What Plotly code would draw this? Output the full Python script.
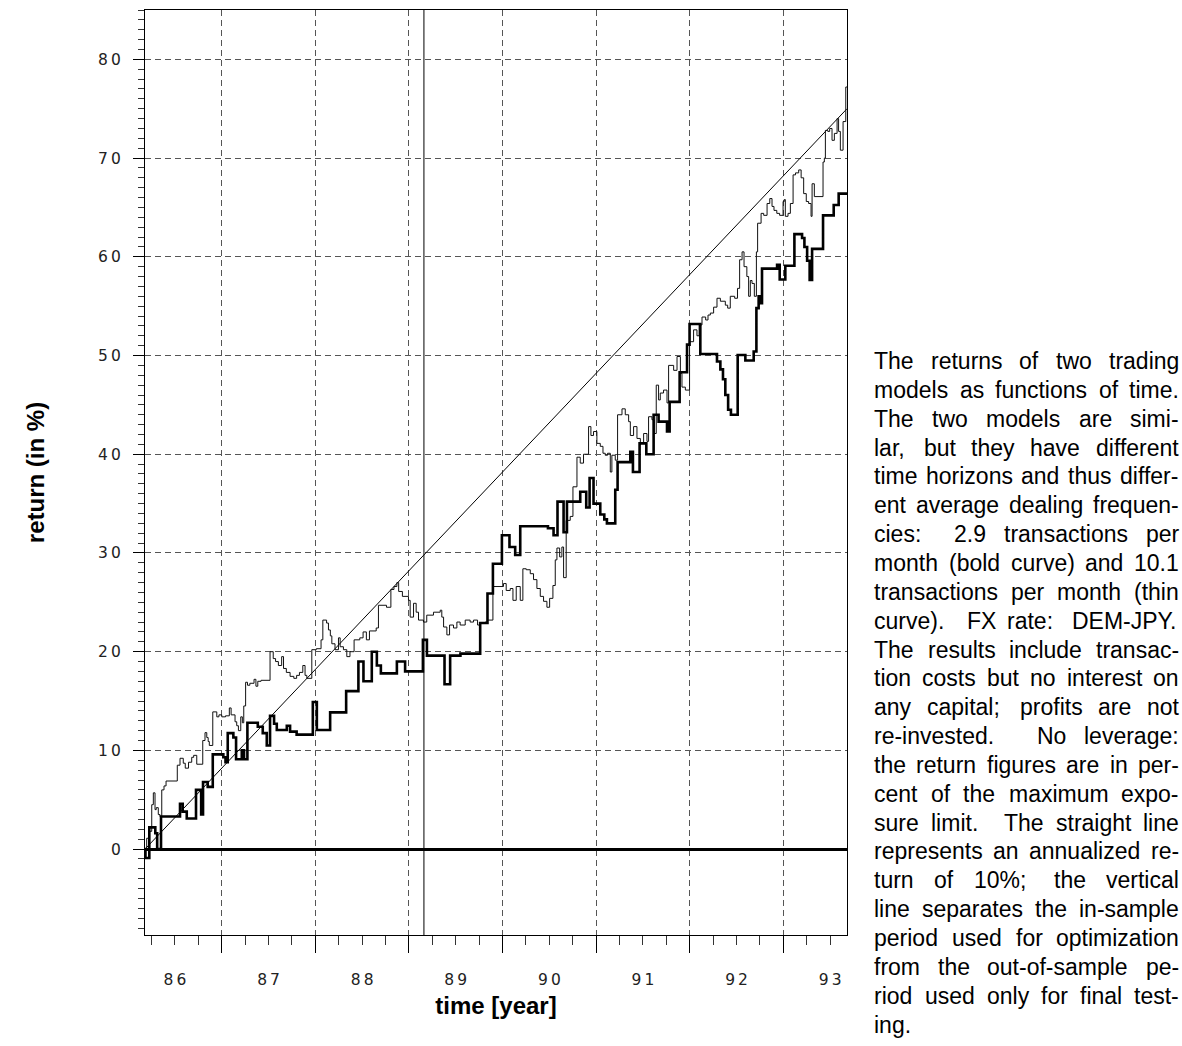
import plotly.graph_objects as go

# ---------------- data ----------------
x_range = [1986.18, 1993.68]
y_range = [-8.7, 85.0]
split_year = 1989.16
ref_t = [1986.18, 1993.68]
ref_v = [0.0, 75.0]
year_label_pos = [1986.5, 1987.5, 1988.5, 1989.5, 1990.5, 1991.5, 1992.5, 1993.5]
year_labels = ["86", "87", "88", "89", "90", "91", "92", "93"]
y_labels = ["0", "10", "20", "30", "40", "50", "60", "70", "80"]

bold_t = [1986.18, 1986.185, 1986.226, 1986.29, 1986.31, 1986.351, 1986.554, 1986.583, 1986.626,
          1986.725, 1986.78, 1986.80, 1986.85, 1986.904, 1987.017, 1987.04, 1987.064, 1987.124,
          1987.153, 1987.214, 1987.238, 1987.274, 1987.385, 1987.438, 1987.481, 1987.516, 1987.559,
          1987.588, 1987.695, 1987.73, 1987.80, 1987.973, 1988.016, 1988.158, 1988.329, 1988.46,
          1988.514, 1988.603, 1988.657, 1988.70, 1988.871, 1988.959, 1989.149, 1989.192, 1989.38,
          1989.44, 1989.55, 1989.761, 1989.839, 1989.897, 1989.993, 1990.074, 1990.135, 1990.189,
          1990.485, 1990.545, 1990.587, 1990.652, 1990.688, 1990.83, 1990.894, 1990.93, 1990.972,
          1991.044, 1991.087, 1991.115, 1991.204, 1991.229, 1991.365, 1991.393, 1991.464, 1991.536,
          1991.614, 1991.667, 1991.757, 1991.785, 1991.892, 1991.971, 1991.998, 1992.113, 1992.291,
          1992.327, 1992.355, 1992.38, 1992.41, 1992.44, 1992.512, 1992.594, 1992.683, 1992.712,
          1992.736, 1992.754, 1992.772, 1992.933, 1992.961, 1993.021, 1993.118, 1993.2, 1993.225,
          1993.254, 1993.281, 1993.307, 1993.424, 1993.538, 1993.591, 1993.68]
bold_v = [0.0, -0.9, 2.2, 1.6, 0.0, 3.3, 4.6, 3.8, 3.1,
          6.0, 3.5, 6.8, 6.3, 9.6, 9.3, 8.8, 11.75, 11.3,
          9.1, 10.0, 9.1, 12.8, 12.4, 11.75, 10.5, 13.5, 12.7,
          12.06, 12.5, 11.9, 11.6, 14.9, 12.06, 13.85, 16.0, 19.0,
          17.0, 20.0, 18.6, 17.8, 19.0, 18.0, 21.2, 19.6, 16.7,
          19.6, 19.8, 22.9, 25.9, 28.9, 31.8, 30.6, 29.8, 32.7,
          32.5, 31.8, 35.2, 32.1, 35.2, 36.2, 34.6, 37.6, 35.0,
          33.9, 33.4, 33.0, 36.4, 39.2, 40.25, 38.2, 41.1, 40.0,
          44.0, 43.3, 42.3, 45.3, 48.3, 51.1, 53.2, 50.15, 49.4,
          48.6, 47.6, 46.0, 44.5, 44.0, 50.05, 49.5, 50.4, 54.8,
          56.0, 55.3, 58.8, 59.2, 57.7, 59.1, 62.3, 61.9, 61.0,
          59.6, 57.65, 60.8, 64.2, 65.25, 66.4, 66.4]

thin_t = [1986.18, 1986.198, 1986.22, 1986.252, 1986.269, 1986.287, 1986.30, 1986.322, 1986.34,
          1986.359, 1986.383, 1986.405, 1986.525, 1986.554, 1986.589, 1986.61, 1986.645, 1986.679,
          1986.70, 1986.733, 1986.797, 1986.821, 1986.84, 1986.855, 1986.867, 1986.904, 1986.947,
          1986.97, 1987.0, 1987.04, 1987.081, 1987.10, 1987.142, 1987.16, 1987.178, 1987.203,
          1987.22, 1987.235, 1987.255, 1987.275, 1987.30, 1987.345, 1987.365, 1987.385, 1987.42,
          1987.516, 1987.55, 1987.575, 1987.605, 1987.64, 1987.66, 1987.69, 1987.73, 1987.77,
          1987.80, 1987.83, 1987.866, 1987.89, 1987.909, 1987.962, 1988.01, 1988.061, 1988.08,
          1988.12, 1988.14, 1988.16, 1988.176, 1988.21, 1988.247, 1988.265, 1988.30, 1988.336,
          1988.37, 1988.414, 1988.475, 1988.51, 1988.545, 1988.578, 1988.65, 1988.674, 1988.76,
          1988.807, 1988.84, 1988.871, 1988.89, 1988.93, 1988.995, 1989.013, 1989.049, 1989.077,
          1989.102, 1989.155, 1989.19, 1989.262, 1989.334, 1989.351, 1989.37, 1989.405, 1989.434,
          1989.476, 1989.512, 1989.547, 1989.601, 1989.654, 1989.69, 1989.733, 1989.761, 1989.815,
          1989.839, 1989.897, 1990.01, 1990.039, 1990.082, 1990.111, 1990.146, 1990.189, 1990.217,
          1990.253, 1990.296, 1990.331, 1990.367, 1990.403, 1990.438, 1990.474, 1990.503, 1990.538,
          1990.563, 1990.581, 1990.61, 1990.634, 1990.652, 1990.68, 1990.723, 1990.752, 1990.795,
          1990.83, 1990.865, 1990.919, 1990.944, 1990.972, 1991.008, 1991.044, 1991.073, 1991.097,
          1991.122, 1991.151, 1991.168, 1991.204, 1991.229, 1991.276, 1991.311, 1991.347, 1991.365,
          1991.40, 1991.436, 1991.472, 1991.507, 1991.543, 1991.56, 1991.596, 1991.62, 1991.642,
          1991.667, 1991.685, 1991.72, 1991.757, 1991.774, 1991.828, 1991.864, 1991.90, 1991.917,
          1991.953, 1991.998, 1992.041, 1992.077, 1992.10, 1992.131, 1992.17, 1992.195, 1992.22,
          1992.255, 1992.291, 1992.327, 1992.38, 1992.405, 1992.433, 1992.48, 1992.51, 1992.533,
          1992.559, 1992.58, 1992.61, 1992.629, 1992.647, 1992.665, 1992.69, 1992.712, 1992.725,
          1992.762, 1992.79, 1992.826, 1992.855, 1992.879, 1992.90, 1992.93, 1992.96, 1992.997,
          1993.01, 1993.021, 1993.05, 1993.075, 1993.104, 1993.13, 1993.164, 1993.19, 1993.217,
          1993.245, 1993.27, 1993.296, 1993.307, 1993.331, 1993.424, 1993.438, 1993.449, 1993.475,
          1993.495, 1993.52, 1993.545, 1993.574, 1993.59, 1993.609, 1993.638, 1993.667, 1993.68]
thin_v = [0.0, 1.1, 1.8, 4.5, 5.7, 4.0, 4.2, 3.5, 3.3,
          6.0, 6.4, 6.9, 8.5, 9.2, 8.7, 8.2, 8.8, 9.3,
          9.5, 8.6, 11.0, 11.8, 11.3, 10.9, 10.5, 13.9, 13.4,
          13.6, 13.4, 13.5, 14.3, 13.6, 12.9, 12.5, 12.0, 13.4,
          12.8, 14.5, 16.9, 16.6, 16.8, 17.2, 16.5, 17.0, 17.1,
          20.0, 19.3, 19.0, 18.6, 19.5, 18.3, 17.9, 17.5, 17.3,
          17.6, 17.9, 18.6, 17.6, 17.3, 20.2, 20.3, 21.2, 23.2,
          22.9, 22.2, 21.6, 20.8, 20.2, 21.4, 20.5, 20.2, 19.5,
          20.0, 21.2, 21.4, 22.0, 21.2, 22.1, 22.4, 24.7, 24.5,
          26.3, 26.6, 27.0, 26.1, 25.6, 25.2, 23.5, 24.9, 24.0,
          23.2, 23.0, 23.7, 24.0, 24.2, 23.5, 22.5, 21.7, 22.7,
          22.4, 23.0, 22.7, 23.2, 23.0, 23.2, 22.7, 22.9, 23.0,
          23.2, 26.6, 26.9, 26.2, 26.4, 25.2, 26.6, 25.2, 28.4,
          28.3, 27.9, 27.3, 26.4, 25.6, 25.1, 24.5, 25.4, 26.7,
          29.3, 30.5, 29.6, 30.6, 27.5, 33.3, 33.7, 36.7, 39.7,
          39.1, 40.0, 42.8, 41.9, 42.3, 41.1, 40.8, 40.1, 39.9,
          40.1, 38.2, 39.9, 39.4, 44.0, 44.6, 44.0, 43.3, 41.9,
          42.8, 41.6, 41.1, 42.1, 41.3, 43.8, 43.5, 42.1, 47.0,
          45.5, 46.2, 46.5, 45.2, 49.0, 48.5, 49.9, 48.2, 46.8,
          46.5, 51.4, 52.6, 52.0, 53.1, 53.9, 53.6, 54.1, 54.3,
          54.9, 55.8, 55.5, 55.1, 54.8, 56.0, 55.8, 56.8, 59.7,
          60.5, 59.0, 58.0, 56.0, 57.6, 57.3, 56.0, 60.5, 63.4,
          64.4, 64.2, 65.4, 65.9, 65.1, 64.7, 64.4, 64.2, 65.6,
          65.8, 64.1, 64.4, 65.4, 68.3, 68.5, 68.8, 68.0, 66.4,
          65.6, 65.4, 64.1, 67.4, 66.1, 69.6, 70.0, 72.8, 72.7,
          73.0, 71.8, 72.5, 74.0, 72.7, 70.8, 73.7, 77.2, 77.2]

caption_lines = [
    "The returns of two trading",
    "models as functions of time.",
    "The two models are simi-",
    "lar, but they have different",
    "time horizons and thus differ-",
    "ent average dealing frequen-",
    "cies: 2.9 transactions per",
    "month (bold curve) and 10.1",
    "transactions per month (thin",
    "curve). FX rate: DEM-JPY.",
    "The results include transac-",
    "tion costs but no interest on",
    "any capital; profits are not",
    "re-invested. No leverage:",
    "the return figures are in per-",
    "cent of the maximum expo-",
    "sure limit. The straight line",
    "represents an annualized re-",
    "turn of 10%; the vertical",
    "line separates the in-sample",
    "period used for optimization",
    "from the out-of-sample pe-",
    "riod used only for final test-",
    "ing.",
]

# ---------------- layout geometry ----------------
W, H = 1182, 1046
ML, MT = 145, 10
PW, PH = 702, 925
MR, MB = W - ML - PW, H - MT - PH

def spaced(s):
    return "\u2009".join(s)

fig = go.Figure()
fig.add_trace(go.Scatter(x=ref_t, y=ref_v, mode="lines",
                         line=dict(color="black", width=1), hoverinfo="skip", showlegend=False))
fig.add_trace(go.Scatter(x=thin_t, y=thin_v, mode="lines", line_shape="hv",
                         line=dict(color="#111111", width=1), showlegend=False))
fig.add_trace(go.Scatter(x=bold_t, y=bold_v, mode="lines", line_shape="hv",
                         line=dict(color="black", width=2.6), showlegend=False))
fig.add_vline(x=split_year, line=dict(color="black", width=1))

tick_font = dict(family="DejaVu Sans", size=15.5, color="#222222")
grid_dash = "6px,4px"
title_font = dict(family="Liberation Sans", size=24, color="black")

fig.update_layout(
    width=W, height=H,
    margin=dict(l=ML, r=MR, t=MT, b=MB, autoexpand=False),
    paper_bgcolor="white", plot_bgcolor="white",
    xaxis=dict(
        range=x_range, tickmode="linear", tick0=1987, dtick=1,
        ticks="outside", ticklen=17, tickwidth=1, tickcolor="black",
        showticklabels=False,
        showgrid=True, gridcolor="#555555", gridwidth=1, griddash=grid_dash,
        zeroline=False, showline=True, linecolor="black", linewidth=1, mirror=True,
        minor=dict(tickmode="linear", tick0=1987, dtick=0.25, ticks="outside",
                   ticklen=9, tickwidth=1, tickcolor="#333333", showgrid=False),
    ),
    xaxis2=dict(
        overlaying="x", anchor="y", side="bottom", range=x_range,
        tickmode="array", tickvals=year_label_pos, ticktext=[spaced(s) for s in year_labels],
        ticks="", showgrid=False, zeroline=False, showline=False,
        tickfont=tick_font, ticklabelstandoff=33,
        title=dict(text="<b>time [year]</b>", standoff=9, font=title_font),
    ),
    yaxis=dict(
        range=y_range, tickmode="linear", tick0=0, dtick=10,
        ticks="outside", ticklen=11, tickwidth=1, tickcolor="black",
        tickfont=tick_font, ticklabelstandoff=9,
        labelalias={s: spaced(s) for s in y_labels},
        showgrid=True, gridcolor="#555555", gridwidth=1, griddash=grid_dash,
        zeroline=True, zerolinecolor="black", zerolinewidth=3,
        showline=True, linecolor="black", linewidth=1, mirror=True,
        minor=dict(tickmode="linear", tick0=0, dtick=1, ticks="outside",
                   ticklen=6, tickwidth=1, tickcolor="#333333", showgrid=False),
        title=dict(text="<b>return (in %)</b>", standoff=46, font=title_font),
    ),
)
# helper trace so the label axis (x2) is drawn
fig.add_trace(go.Scatter(x=x_range, y=[None, None], xaxis="x2", yaxis="y",
                         mode="lines", showlegend=False, hoverinfo="skip"))

# ---------------- justified caption ----------------
AW = {' ': 278, '!': 278, '%': 889, '(': 333, ')': 333, ',': 278, '-': 333, '.': 278,
      ':': 278, ';': 278, 'A': 667, 'B': 667, 'C': 722, 'D': 722, 'E': 667, 'F': 611,
      'G': 778, 'H': 722, 'I': 278, 'J': 500, 'K': 667, 'L': 556, 'M': 833, 'N': 722,
      'O': 778, 'P': 667, 'Q': 778, 'R': 722, 'S': 667, 'T': 611, 'U': 722, 'V': 667,
      'W': 944, 'X': 667, 'Y': 667, 'Z': 611, 'a': 556, 'b': 556, 'c': 500, 'd': 556,
      'e': 556, 'f': 278, 'g': 556, 'h': 556, 'i': 222, 'j': 222, 'k': 500, 'l': 222,
      'm': 833, 'n': 556, 'o': 556, 'p': 556, 'q': 556, 'r': 333, 's': 500, 't': 278,
      'u': 556, 'v': 500, 'w': 722, 'x': 500, 'y': 500, 'z': 500}
FS = 23
CAP_L, CAP_R = 873, 1178
CAP_Y0, CAP_DY = 361, 28.85

def tw(s):
    return sum(AW.get(c, 556) for c in s) * FS / 1000.0

def sf(word):
    return {'.': 3.0, ':': 2.0, ';': 1.5, ',': 1.25}.get(word[-1], 1.0)

annotations = []
for i, line in enumerate(caption_lines):
    words = line.split(" ")
    widths = [tw(w) for w in words]
    gaps, facs = [], []
    for w in words[:-1]:
        f = sf(w)
        facs.append(f)
        gaps.append(tw(" ") + (0.12 * FS if f >= 2 else 0.0))
    natural = sum(widths) + sum(gaps)
    if i < len(caption_lines) - 1 and len(words) > 1:
        diff = (CAP_R - CAP_L) - natural
        if diff >= 0:
            tot = sum(facs)
            gaps = [g + diff * f / tot for g, f in zip(gaps, facs)]
        else:
            tot = sum(1.0 / f for f in facs)
            gaps = [g + diff * (1.0 / f) / tot for g, f in zip(gaps, facs)]
    x = CAP_L
    yc = CAP_Y0 + i * CAP_DY
    for j, w in enumerate(words):
        annotations.append(dict(
            text=w, x=(x - ML) / PW, y=(MT + PH - yc) / PH,
            xref="paper", yref="paper", xanchor="left", yanchor="middle",
            showarrow=False, borderpad=0,
            font=dict(family="Liberation Sans", size=FS, color="black")))
        x += widths[j] + (gaps[j] if j < len(gaps) else 0)

fig.update_layout(annotations=annotations)

# remove the default 8px page margin so the figure fills the window exactly
fig.write_html("out.html", config={"displayModeBar": False},
               post_script="document.body.style.margin='0';document.body.style.overflow='hidden';")
